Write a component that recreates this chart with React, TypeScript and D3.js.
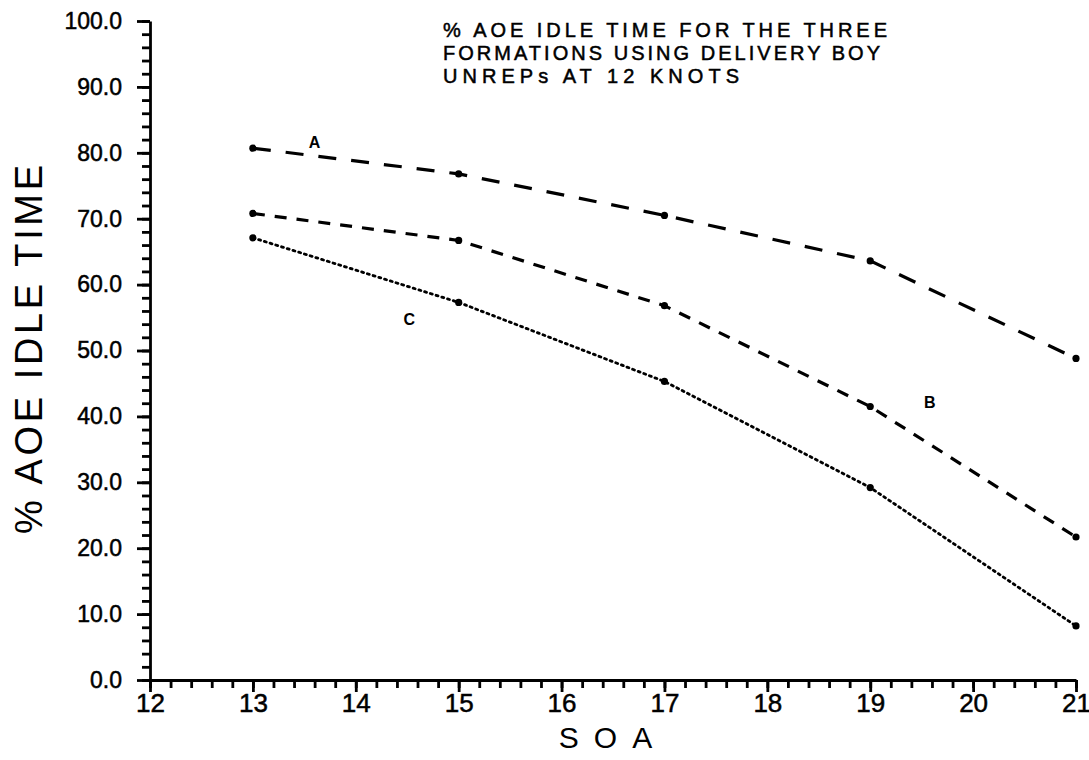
import React, { useEffect, useRef } from "react";
import * as d3 from "d3";

// SOA values on the x axis
const soa = [13, 15, 17, 19, 21];

// % AOE idle time for each formation
const formationA = [80.7, 76.8, 70.5, 63.6, 48.8];
const formationB = [70.8, 66.7, 56.8, 41.5, 21.7];
const formationC = [67.1, 57.3, 45.3, 29.2, 8.2];

const seriesNames = ["A", "B", "C"];
const xTickValues = [12, 13, 14, 15, 16, 17, 18, 19, 20, 21];
const yTickValues = [0, 10, 20, 30, 40, 50, 60, 70, 80, 90, 100];

const titleLines = [
  "% AOE IDLE TIME FOR THE THREE",
  "FORMATIONS USING DELIVERY BOY",
  "UNREPs AT 12 KNOTS",
];

const W = 1089, H = 760;
const FONT = "'Liberation Sans', Arial, sans-serif";

export default function App() {
  const ref = useRef<SVGSVGElement>(null);

  useEffect(() => {
    const svg = d3.select(ref.current);
    svg.selectAll("*").remove();

    const x = d3.scaleLinear().domain([12, 21]).range([150, 1076]);
    const y = d3.scaleLinear().domain([0, 100]).range([680, 21]);

    // x axis, minor ticks every 0.2
    svg.append("g")
      .attr("transform", `translate(0,${y(0)})`)
      .call(d3.axisBottom(x).tickValues(d3.range(12, 21.001, 0.2)).tickSize(8).tickFormat(() => ""))
      .call(g => g.select(".domain").remove());
    svg.append("g")
      .attr("transform", `translate(0,${y(0)})`)
      .call(d3.axisBottom(x).tickValues(xTickValues).tickSize(12).tickSizeOuter(0).tickFormat(d3.format("d")))
      .call(g => g.selectAll("text").attr("dy", 0).attr("y", 32)
        .style("font-size", "26px").style("font-family", FONT).attr("fill", "#000")
        .attr("stroke", "#000").attr("stroke-width", 0.5));

    // y axis, minor ticks every 2
    svg.append("g")
      .attr("transform", `translate(${x(12)},0)`)
      .call(d3.axisLeft(y).tickValues(d3.range(0, 101, 2)).tickSize(8).tickFormat(() => ""))
      .call(g => g.select(".domain").remove());
    svg.append("g")
      .attr("transform", `translate(${x(12)},0)`)
      .call(d3.axisLeft(y).tickValues(yTickValues).tickSize(13).tickSizeOuter(0).tickPadding(15).tickFormat(d3.format(".1f")))
      .call(g => g.selectAll("text").style("font-size", "23px").style("font-family", FONT).attr("fill", "#000")
        .attr("stroke", "#000").attr("stroke-width", 0.5));

    svg.selectAll(".domain, .tick line").attr("stroke", "#000").attr("stroke-width", 2.8);

    // series lines
    const data = [formationA, formationB, formationC];
    const dashes = ["18,15", "12,10", "2,4"];
    const line = d3.line<number>().x((d, i) => x(soa[i])).y(d => y(d));

    data.forEach((vals, k) => {
      svg.append("path")
        .datum(vals)
        .attr("d", line)
        .attr("fill", "none")
        .attr("stroke", "#000")
        .attr("stroke-width", k === 2 ? 2.8 : 3.2)
        .attr("stroke-linecap", k === 2 ? "round" : "butt")
        .attr("stroke-dasharray", dashes[k]);
      svg.append("g").selectAll("circle")
        .data(vals)
        .join("circle")
        .attr("cx", (d, i) => x(soa[i]))
        .attr("cy", d => y(d))
        .attr("r", 3.6)
        .attr("fill", "#000");
    });

    // series labels
    const labelPos = [[13.6, 80.7], [19.58, 41.3], [14.52, 53.9]];
    seriesNames.forEach((name, k) => {
      svg.append("text")
        .attr("x", x(labelPos[k][0]))
        .attr("y", y(labelPos[k][1]))
        .attr("text-anchor", "middle")
        .style("font-family", FONT)
        .style("font-size", "16px")
        .style("font-weight", "bold")
        .text(name);
    });

    // title block
    const titleLen = [444, 437, 296];
    titleLines.forEach((t, i) => {
      svg.append("text")
        .attr("x", 443)
        .attr("y", 37 + i * 23)
        .attr("textLength", titleLen[i])
        .attr("lengthAdjust", "spacing")
        .attr("stroke", "#000")
        .attr("stroke-width", 0.5)
        .style("font-family", FONT)
        .style("font-size", "20px")
        .text(t);
    });

    // axis titles
    svg.append("text")
      .attr("x", x(16.5))
      .attr("y", 748)
      .attr("text-anchor", "middle")
      .style("font-family", FONT)
      .style("font-size", "30px")
      .style("letter-spacing", "15px")
      .text("SOA");

    svg.append("text")
      .attr("transform", `translate(42,${350}) rotate(-90)`)
      .attr("x", -184)
      .attr("textLength", 369)
      .attr("lengthAdjust", "spacing")
      .style("font-family", FONT)
      .style("font-size", "38px")
      .text("% AOE IDLE TIME");
  }, []);

  return (
    <svg ref={ref} width={W} height={H}
      style={{ position: "absolute", left: 0, top: 0, background: "#fff" }} />
  );
}
